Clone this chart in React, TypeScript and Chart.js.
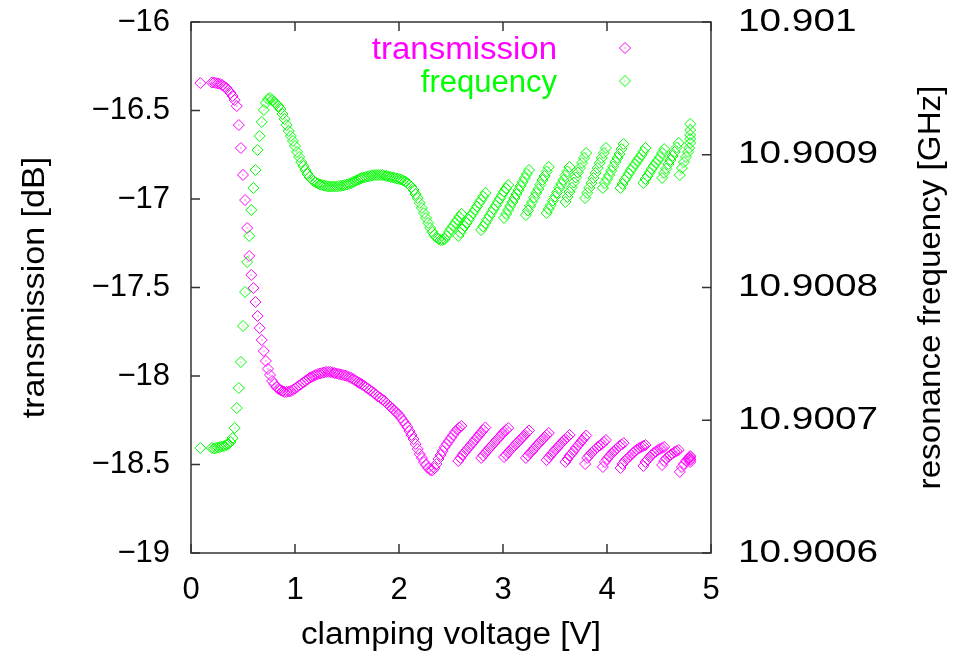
import React, { useEffect, useRef } from 'react';
import { Chart, registerables } from 'chart.js';

Chart.register(...registerables);

const FONT_FAMILY = "'Liberation Sans', Arial, Helvetica, sans-serif";
const FONT_SIZE = 31;

// Clamping voltage of each measurement [V]
const voltage = [
  0.09,
  0.20, 0.22, 0.24, 0.26, 0.28, 0.30, 0.32, 0.34, 0.36, 0.38,
  0.40, 0.42, 0.44, 0.46, 0.48, 0.50, 0.52, 0.54, 0.56, 0.58,
  0.60, 0.62, 0.64, 0.66, 0.68, 0.70, 0.72, 0.74, 0.76, 0.78,
  0.80, 0.82, 0.84, 0.86, 0.88, 0.90, 0.92, 0.94, 0.96, 0.98,
  1.00, 1.02, 1.04, 1.06, 1.08, 1.10, 1.12, 1.14, 1.16, 1.18,
  1.20, 1.22, 1.24, 1.26, 1.28, 1.30, 1.32, 1.34, 1.36, 1.38,
  1.40, 1.42, 1.44, 1.46, 1.48, 1.50, 1.52, 1.54, 1.56, 1.58,
  1.60, 1.62, 1.64, 1.66, 1.68, 1.70, 1.72, 1.74, 1.76, 1.78,
  1.80, 1.82, 1.84, 1.86, 1.88, 1.90, 1.92, 1.94, 1.96, 1.98,
  2.00, 2.02, 2.04, 2.06, 2.08, 2.10, 2.12, 2.14, 2.16, 2.18,
  2.20, 2.22, 2.24, 2.26, 2.28, 2.30, 2.32, 2.34, 2.36, 2.38,
  2.40, 2.42, 2.44, 2.46, 2.48, 2.50, 2.52, 2.54, 2.56, 2.58,
  2.60,
  2.57, 2.59, 2.61, 2.63, 2.65, 2.67, 2.69, 2.71, 2.73, 2.75, 2.77, 2.79, 2.81, 2.83,
  2.79, 2.81, 2.83, 2.85, 2.87, 2.89, 2.91, 2.93, 2.95, 2.97, 2.99, 3.01, 3.03, 3.05,
  3.01, 3.03, 3.05, 3.07, 3.09, 3.11, 3.13, 3.15, 3.17, 3.19, 3.21, 3.23, 3.25,
  3.22, 3.24, 3.26, 3.28, 3.30, 3.32, 3.34, 3.36, 3.38, 3.40, 3.42, 3.44,
  3.42, 3.44, 3.46, 3.48, 3.50, 3.52, 3.54, 3.56, 3.58, 3.60, 3.62, 3.64,
  3.60, 3.62, 3.64, 3.66, 3.68, 3.70, 3.72, 3.74, 3.76, 3.78, 3.80,
  3.79, 3.81, 3.83, 3.85, 3.87, 3.89, 3.91, 3.93, 3.95, 3.97, 3.99,
  3.96, 3.98, 4.00, 4.02, 4.04, 4.06, 4.08, 4.10, 4.12, 4.14, 4.16,
  4.13, 4.15, 4.17, 4.19, 4.21, 4.23, 4.25, 4.27, 4.29, 4.31, 4.33, 4.35, 4.37,
  4.35, 4.37, 4.39, 4.41, 4.43, 4.45, 4.47, 4.49, 4.51, 4.53, 4.55,
  4.53, 4.55, 4.57, 4.59, 4.61, 4.63, 4.65, 4.67, 4.69,
  4.70, 4.72, 4.74, 4.76, 4.78, 4.79, 4.80, 4.80, 4.80, 4.80, 4.80,
];

// Transmission at each voltage [dB]
const transmission = [
  -16.345,
  -16.342, -16.342, -16.345, -16.347, -16.350, -16.356, -16.364, -16.373, -16.387, -16.401,
  -16.418, -16.441, -16.475, -16.582, -16.712, -16.864, -17.006, -17.164, -17.322, -17.429,
  -17.503, -17.582, -17.661, -17.729, -17.797, -17.859, -17.915, -17.960, -17.994, -18.028,
  -18.045, -18.062, -18.073, -18.079, -18.085, -18.090, -18.090, -18.088, -18.085, -18.079,
  -18.071, -18.062, -18.054, -18.045, -18.037, -18.028, -18.020, -18.011, -18.006, -18.000,
  -17.994, -17.989, -17.986, -17.983, -17.980, -17.977, -17.977, -17.977, -17.980, -17.983,
  -17.986, -17.989, -17.992, -17.994, -17.997, -18.000, -18.006, -18.011, -18.017, -18.025,
  -18.034, -18.040, -18.045, -18.054, -18.062, -18.071, -18.079, -18.088, -18.096, -18.107,
  -18.116, -18.124, -18.133, -18.141, -18.153, -18.164, -18.175, -18.186, -18.198, -18.209,
  -18.220, -18.237, -18.254, -18.271, -18.288, -18.311, -18.333, -18.356, -18.384, -18.412,
  -18.441, -18.463, -18.486, -18.503, -18.520, -18.531, -18.534, -18.520, -18.497, -18.469,
  -18.446, -18.424, -18.401, -18.384, -18.367, -18.350, -18.333, -18.316, -18.302, -18.291,
  -18.282,
  -18.480, -18.463, -18.446, -18.432, -18.418, -18.404, -18.390, -18.376, -18.362, -18.347, -18.333, -18.319, -18.305, -18.291,
  -18.463, -18.449, -18.435, -18.421, -18.407, -18.395, -18.381, -18.367, -18.356, -18.342, -18.328, -18.316, -18.305, -18.294,
  -18.458, -18.446, -18.432, -18.418, -18.407, -18.395, -18.381, -18.370, -18.356, -18.345, -18.333, -18.319, -18.308,
  -18.463, -18.449, -18.435, -18.424, -18.410, -18.395, -18.384, -18.370, -18.359, -18.345, -18.333, -18.322,
  -18.475, -18.460, -18.446, -18.432, -18.418, -18.407, -18.393, -18.379, -18.367, -18.356, -18.345, -18.333,
  -18.486, -18.469, -18.452, -18.438, -18.424, -18.407, -18.393, -18.379, -18.364, -18.350, -18.336,
  -18.497, -18.463, -18.449, -18.435, -18.424, -18.412, -18.401, -18.393, -18.384, -18.373, -18.362,
  -18.514, -18.486, -18.469, -18.455, -18.441, -18.429, -18.418, -18.407, -18.395, -18.387, -18.379,
  -18.520, -18.497, -18.480, -18.469, -18.458, -18.446, -18.435, -18.424, -18.415, -18.407, -18.401, -18.395, -18.390,
  -18.508, -18.486, -18.472, -18.458, -18.446, -18.435, -18.427, -18.418, -18.412, -18.407, -18.401,
  -18.503, -18.480, -18.466, -18.455, -18.446, -18.438, -18.429, -18.424, -18.418,
  -18.542, -18.514, -18.497, -18.480, -18.469, -18.463, -18.458, -18.475, -18.486, -18.452, -18.469,
];

// Resonance frequency at each voltage [GHz]
const frequency = [
  10.9006791,
  10.9006791, 10.9006787, 10.9006791, 10.9006795, 10.9006798, 10.9006802, 10.9006806, 10.9006814, 10.9006821, 10.9006836,
  10.9006866, 10.9006942, 10.9007092, 10.9007243, 10.9007439, 10.9007710, 10.9007966, 10.9008192, 10.9008388, 10.9008584,
  10.9008750, 10.9008885, 10.9009036, 10.9009141, 10.9009247, 10.9009337, 10.9009390, 10.9009420, 10.9009427, 10.9009412,
  10.9009397, 10.9009382, 10.9009367, 10.9009345, 10.9009307, 10.9009269, 10.9009224, 10.9009179, 10.9009141, 10.9009104,
  10.9009066, 10.9009021, 10.9008983, 10.9008945, 10.9008915, 10.9008885, 10.9008855, 10.9008832, 10.9008817, 10.9008802,
  10.9008791, 10.9008783, 10.9008776, 10.9008772, 10.9008768, 10.9008765, 10.9008761, 10.9008761, 10.9008761, 10.9008761,
  10.9008761, 10.9008765, 10.9008765, 10.9008768, 10.9008772, 10.9008776, 10.9008780, 10.9008787, 10.9008795, 10.9008802,
  10.9008810, 10.9008817, 10.9008825, 10.9008829, 10.9008832, 10.9008836, 10.9008840, 10.9008844, 10.9008847, 10.9008847,
  10.9008847, 10.9008847, 10.9008847, 10.9008844, 10.9008840, 10.9008836, 10.9008832, 10.9008829, 10.9008825, 10.9008821,
  10.9008817, 10.9008814, 10.9008806, 10.9008798, 10.9008787, 10.9008772, 10.9008757, 10.9008734, 10.9008704, 10.9008674,
  10.9008637, 10.9008599, 10.9008561, 10.9008524, 10.9008486, 10.9008448, 10.9008418, 10.9008395, 10.9008377, 10.9008365,
  10.9008358, 10.9008358, 10.9008365, 10.9008388, 10.9008418, 10.9008441, 10.9008463, 10.9008486, 10.9008508, 10.9008531,
  10.9008554,
  10.9008388, 10.9008414, 10.9008441, 10.9008463, 10.9008486, 10.9008512, 10.9008539, 10.9008561, 10.9008584, 10.9008610, 10.9008637, 10.9008659, 10.9008685, 10.9008712,
  10.9008433, 10.9008460, 10.9008486, 10.9008512, 10.9008539, 10.9008565, 10.9008591, 10.9008618, 10.9008644, 10.9008670, 10.9008697, 10.9008723, 10.9008746, 10.9008772,
  10.9008524, 10.9008554, 10.9008584, 10.9008614, 10.9008644, 10.9008674, 10.9008704, 10.9008734, 10.9008765, 10.9008795, 10.9008825, 10.9008855, 10.9008885,
  10.9008546, 10.9008580, 10.9008614, 10.9008644, 10.9008678, 10.9008712, 10.9008742, 10.9008776, 10.9008810, 10.9008840, 10.9008874, 10.9008908,
  10.9008561, 10.9008591, 10.9008621, 10.9008655, 10.9008685, 10.9008716, 10.9008750, 10.9008780, 10.9008810, 10.9008844, 10.9008874, 10.9008908,
  10.9008644, 10.9008682, 10.9008719, 10.9008753, 10.9008791, 10.9008829, 10.9008866, 10.9008900, 10.9008938, 10.9008976, 10.9009013,
  10.9008674, 10.9008712, 10.9008750, 10.9008787, 10.9008825, 10.9008863, 10.9008900, 10.9008938, 10.9008976, 10.9009013, 10.9009051,
  10.9008750, 10.9008787, 10.9008817, 10.9008847, 10.9008878, 10.9008911, 10.9008945, 10.9008976, 10.9009006, 10.9009043, 10.9009081,
  10.9008750, 10.9008780, 10.9008810, 10.9008832, 10.9008859, 10.9008885, 10.9008908, 10.9008930, 10.9008953, 10.9008976, 10.9008998, 10.9009024, 10.9009051,
  10.9008787, 10.9008817, 10.9008840, 10.9008866, 10.9008893, 10.9008915, 10.9008938, 10.9008960, 10.9008983, 10.9009013, 10.9009043,
  10.9008825, 10.9008863, 10.9008896, 10.9008930, 10.9008960, 10.9008991, 10.9009021, 10.9009055, 10.9009089,
  10.9008847, 10.9008900, 10.9008945, 10.9008983, 10.9009021, 10.9009051, 10.9009089, 10.9009119, 10.9009149, 10.9009186, 10.9009232,
];

const voltageTicks = [0, 1, 2, 3, 4, 5];
const transmissionTicks = [-19, -18.5, -18, -17.5, -17, -16.5, -16];
const frequencyTicks = [10.9006, 10.9007, 10.9008, 10.9009, 10.901];

const seriesLabels = ['transmission', 'frequency'];
const seriesColors = ['#ff00ff', '#00ff00'];

const xTitle = 'clamping voltage [V]';
const yTitle = 'transmission [dB]';
const y2Title = 'resonance frequency [GHz]';

const font = { family: FONT_FAMILY, size: FONT_SIZE };
const CSS_FONT = `${FONT_SIZE}px ${FONT_FAMILY}`;

const formatTick = (v: number) => {
  const s = String(Number(v.toFixed(4)));
  return s.startsWith('-') ? '\u2212' + s.slice(1) : s;
};

const setTicks = (values: number[]) => (scale: any) => {
  scale.ticks = values.map((value) => ({ value }));
};

const POINT_RADIUS = 5.5;
const TICK_LEN = 9;

// Text drawn with a horizontal stretch along its own direction
const drawText = (
  ctx: CanvasRenderingContext2D,
  text: string,
  x: number,
  y: number,
  opts: { align: CanvasTextAlign; baseline: CanvasTextBaseline; stretch: number; rotate?: number; color: string },
) => {
  ctx.save();
  ctx.font = CSS_FONT;
  ctx.fillStyle = opts.color;
  ctx.textAlign = opts.align;
  ctx.textBaseline = opts.baseline;
  ctx.translate(x, y);
  if (opts.rotate) ctx.rotate(opts.rotate);
  ctx.scale(opts.stretch, 1);
  ctx.fillText(text, 0, 0);
  ctx.restore();
};

// Border box with inward tick marks on every side
const framePlugin = {
  id: 'frame',
  afterDatasetsDraw(chart: any) {
    const { ctx, chartArea: a, scales } = chart;
    ctx.save();
    ctx.strokeStyle = '#333333';
    ctx.lineWidth = 1.5;
    ctx.strokeRect(a.left, a.top, a.right - a.left, a.bottom - a.top);
    ctx.beginPath();
    voltageTicks.forEach((v) => {
      const x = scales.x.getPixelForValue(v);
      ctx.moveTo(x, a.bottom);
      ctx.lineTo(x, a.bottom - TICK_LEN);
      ctx.moveTo(x, a.top);
      ctx.lineTo(x, a.top + TICK_LEN);
    });
    transmissionTicks.forEach((v) => {
      const y = scales.y.getPixelForValue(v);
      ctx.moveTo(a.left, y);
      ctx.lineTo(a.left + TICK_LEN, y);
    });
    frequencyTicks.forEach((v) => {
      const y = scales.y2.getPixelForValue(v);
      ctx.moveTo(a.right, y);
      ctx.lineTo(a.right - TICK_LEN, y);
    });
    ctx.stroke();
    ctx.restore();
  },
};

const drawDiamond = (ctx: CanvasRenderingContext2D, x: number, y: number, color: string) => {
  ctx.save();
  ctx.strokeStyle = color;
  ctx.fillStyle = color;
  ctx.lineWidth = 1;
  ctx.beginPath();
  ctx.moveTo(x, y - POINT_RADIUS);
  ctx.lineTo(x + POINT_RADIUS, y);
  ctx.lineTo(x, y + POINT_RADIUS);
  ctx.lineTo(x - POINT_RADIUS, y);
  ctx.closePath();
  ctx.stroke();
  ctx.fillRect(Math.round(x) - 0.5, Math.round(y) - 0.5, 1, 1);
  ctx.restore();
};

// Small dot in the centre of every marker
const centerDotPlugin = {
  id: 'centerDots',
  afterDatasetsDraw(chart: any) {
    const { ctx, chartArea: a } = chart;
    ctx.save();
    ctx.beginPath();
    ctx.rect(a.left, a.top, a.right - a.left, a.bottom - a.top);
    ctx.clip();
    chart.data.datasets.forEach((ds: any, i: number) => {
      const meta = chart.getDatasetMeta(i);
      ctx.fillStyle = ds.borderColor;
      meta.data.forEach((pt: any) => {
        ctx.fillRect(Math.round(pt.x) - 0.5, Math.round(pt.y) - 0.5, 1, 1);
      });
    });
    ctx.restore();
  },
};

// Key in the upper right: right-aligned label followed by its marker
const keyStretch = [1.064, 1.0];
const keyPlugin = {
  id: 'key',
  afterDraw(chart: any) {
    const { ctx } = chart;
    seriesLabels.forEach((label, i) => {
      const baseline = 59 + i * 33;
      drawText(ctx, label, 557, baseline, {
        align: 'right',
        baseline: 'alphabetic',
        stretch: keyStretch[i],
        color: seriesColors[i],
      });
      drawDiamond(ctx, 625, baseline - 11, seriesColors[i]);
    });
  },
};

// Axis titles and the right-hand tick labels
const axisTextPlugin = {
  id: 'axisText',
  afterDraw(chart: any) {
    const { ctx, chartArea: a, scales } = chart;
    const midY = (a.top + a.bottom) / 2;
    const midX = (a.left + a.right) / 2;
    drawText(ctx, xTitle, midX, 635, { align: 'center', baseline: 'middle', stretch: 1.075, color: '#000000' });
    drawText(ctx, yTitle, 35, midY, {
      align: 'center',
      baseline: 'middle',
      stretch: 1.1,
      rotate: -Math.PI / 2,
      color: '#000000',
    });
    drawText(ctx, y2Title, 931, midY, {
      align: 'center',
      baseline: 'middle',
      stretch: 1.07,
      rotate: -Math.PI / 2,
      color: '#000000',
    });
    frequencyTicks.forEach((v) => {
      drawText(ctx, formatTick(v), a.right + 27, scales.y2.getPixelForValue(v), {
        align: 'left',
        baseline: 'middle',
        stretch: 1.25,
        color: '#000000',
      });
    });
  },
};

const fitVertical = (width: number) => (scale: any) => {
  scale.width = width;
  scale.paddingTop = 0;
  scale.paddingBottom = 0;
};

export default function App() {
  const canvasRef = useRef<HTMLCanvasElement | null>(null);

  useEffect(() => {
    const canvas = canvasRef.current;
    if (!canvas) return;

    const makePoints = (values: number[]) => voltage.map((x, i) => ({ x, y: values[i] }));

    const chart = new Chart(canvas, {
      type: 'scatter',
      data: {
        datasets: [
          {
            label: seriesLabels[0],
            data: makePoints(transmission),
            yAxisID: 'y',
            borderColor: seriesColors[0],
            backgroundColor: 'rgba(0,0,0,0)',
            pointStyle: 'rectRot',
            pointRadius: POINT_RADIUS,
            pointBorderWidth: 1,
            order: 1,
          },
          {
            label: seriesLabels[1],
            data: makePoints(frequency),
            yAxisID: 'y2',
            borderColor: seriesColors[1],
            backgroundColor: 'rgba(0,0,0,0)',
            pointStyle: 'rectRot',
            pointRadius: POINT_RADIUS,
            pointBorderWidth: 1,
            order: 0,
          },
        ],
      },
      options: {
        animation: false,
        responsive: false,
        devicePixelRatio: 1,
        layout: { padding: { top: 22, left: 0, right: 0, bottom: 0 } },
        plugins: {
          legend: { display: false },
          tooltip: { enabled: false },
        },
        events: [],
        scales: {
          x: {
            type: 'linear',
            position: 'bottom',
            min: 0,
            max: 5,
            afterBuildTicks: setTicks(voltageTicks),
            afterFit: (scale: any) => {
              scale.height = 104;
              scale.paddingLeft = 0;
              scale.paddingRight = 0;
            },
            grid: { display: false, drawTicks: false },
            border: { display: false },
            ticks: {
              font,
              color: '#000000',
              padding: 19,
              maxRotation: 0,
              autoSkip: false,
              callback: (v: any) => formatTick(Number(v)),
            },
          },
          y: {
            type: 'linear',
            position: 'left',
            min: -19,
            max: -16,
            afterBuildTicks: setTicks(transmissionTicks),
            afterFit: fitVertical(191),
            grid: { display: false, drawTicks: false },
            border: { display: false },
            ticks: {
              font,
              color: '#000000',
              padding: 21,
              autoSkip: false,
              callback: (v: any) => formatTick(Number(v)),
            },
          },
          y2: {
            type: 'linear',
            position: 'right',
            min: 10.9006,
            max: 10.901,
            afterBuildTicks: setTicks(frequencyTicks),
            afterFit: fitVertical(248),
            grid: { display: false, drawTicks: false },
            border: { display: false },
            ticks: { display: false },
          },
        },
      },
      plugins: [framePlugin, centerDotPlugin, keyPlugin, axisTextPlugin],
    });

    return () => {
      chart.destroy();
    };
  }, []);

  return (
    <div style={{ position: 'fixed', left: 0, top: 0, width: 959, height: 657, background: '#ffffff' }}>
      <canvas ref={canvasRef} width={959} height={657} style={{ display: 'block' }} />
    </div>
  );
}
